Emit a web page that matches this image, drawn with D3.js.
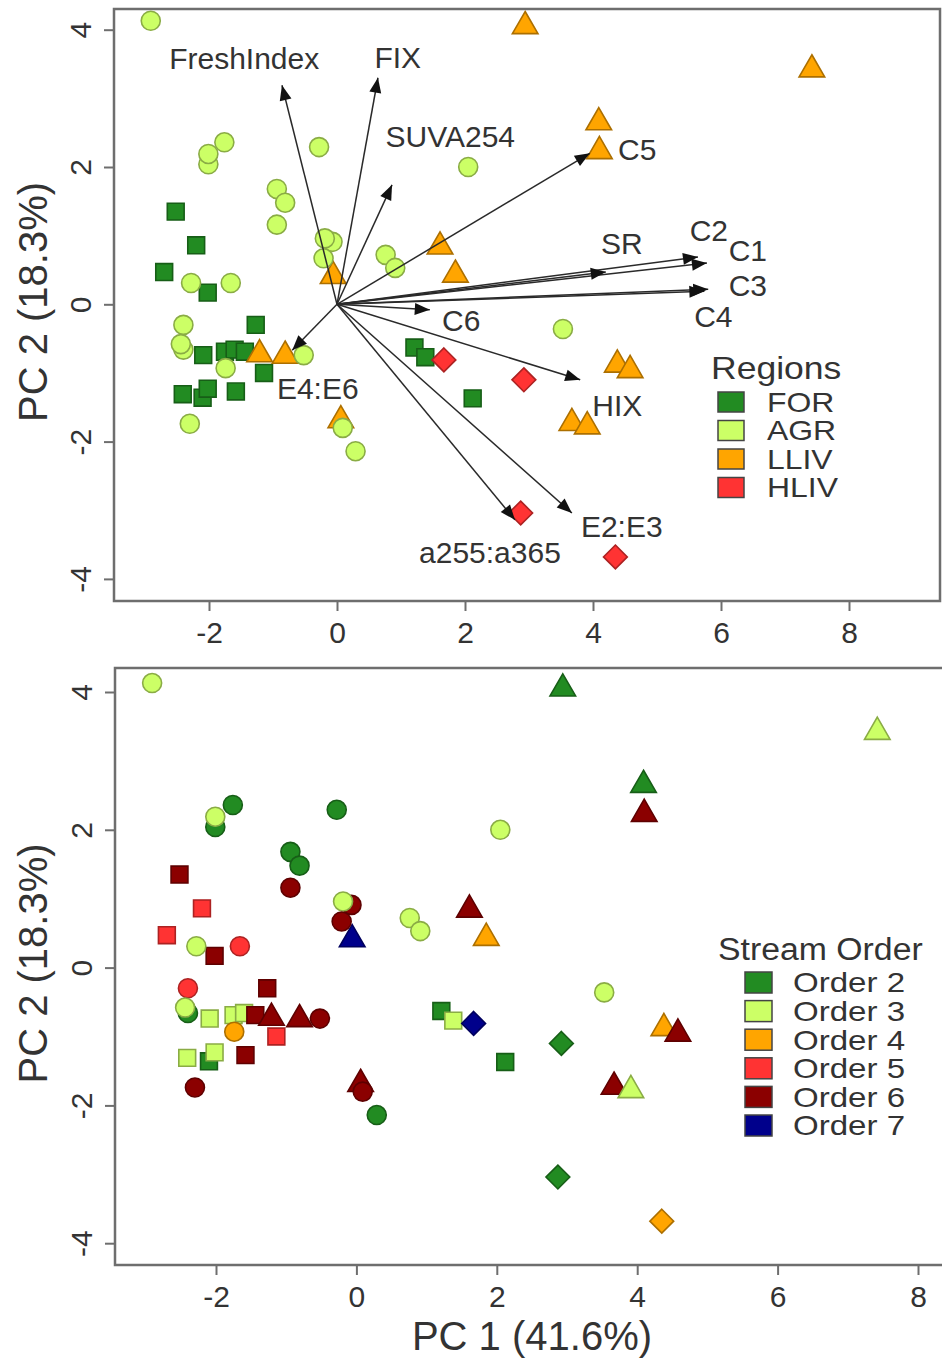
<!DOCTYPE html>
<html>
<head>
<meta charset="utf-8">
<script src="https://cdn.jsdelivr.net/npm/d3@7"></script>
<style>
  body { margin: 0; background: #ffffff; }
  svg { display: block; }
  text { font-family: "Liberation Sans", Arial, sans-serif; fill: #333333; }
</style>
</head>
<body>
<svg id="chart" width="942" height="1358"></svg>
<script>
// ---- PCA site scores (PC1, PC2), grouped by region; drawn in this order ----
const siteRegion = [
  // FOR
  "FOR","FOR","FOR","FOR","FOR","FOR","FOR","FOR","FOR","FOR","FOR","FOR","FOR","FOR","FOR","FOR","FOR",
  // LLIV
  "LLIV","LLIV","LLIV","LLIV","LLIV","LLIV","LLIV","LLIV","LLIV","LLIV","LLIV","LLIV","LLIV","LLIV",
  // HLIV
  "HLIV","HLIV","HLIV","HLIV",
  // AGR
  "AGR","AGR","AGR","AGR","AGR","AGR","AGR","AGR","AGR","AGR","AGR","AGR","AGR","AGR","AGR","AGR","AGR",
  "AGR","AGR","AGR","AGR","AGR","AGR","AGR","AGR"
];
const sitePC1 = [
  -2.52, -2.20, -2.70, -2.02, -1.27, -2.09, -1.75, -1.60, -1.44, -1.14, -2.41, -2.10, -2.02, -1.58, 1.21, 1.38, 2.12,
  2.94, 7.42, 4.09, 4.10, 1.61, 1.85, 4.38, 4.58, 3.67, 3.91, -0.06, 0.06, -1.21, -0.81,
  1.67, 2.92, 2.87, 4.35,
  -2.91, -1.76, -2.01, -2.01, -0.28, -0.94, -0.81, -0.94, -0.07, -0.19, -0.21, -2.28, -1.66, -2.40, -2.40,
  -2.44, -1.74, -2.30, -0.52, 0.09, 0.29, 0.76, 0.91, 2.05, 3.53
];
const sitePC2 = [
  1.35, 0.86, 0.47, 0.17, -0.30, -0.74, -0.69, -0.66, -0.69, -1.00, -1.31, -1.36, -1.23, -1.27, -0.63, -0.77, -1.37,
  4.05, 3.42, 2.65, 2.23, 0.84, 0.43, -0.88, -0.96, -1.73, -1.78, 0.41, -1.69, -0.73, -0.75,
  -0.81, -1.10, -3.04, -3.68,
  4.13, 2.36, 2.04, 2.19, 2.29, 1.68, 1.48, 1.16, 0.91, 0.96, 0.67, 0.31, 0.31, -0.30, -0.66,
  -0.58, -0.93, -1.74, -0.74, -1.80, -2.14, 0.72, 0.53, 2.00, -0.36
];
const siteStreamOrder = [
  6, 5, 5, 6, 6, 3, 3, 3, 6, 5, 3, 2, 3, 6, 2, 3, 2,
  2, 3, 2, 6, 6, 4, 4, 6, 6, 3, 7, 6, 6, 6,
  7, 2, 2, 4,
  3, 2, 2, 3, 2, 2, 2, 6, 6, 3, 6, 3, 5, 5, 2,
  3, 4, 6, 6, 6, 2, 3, 3, 3, 3
];

// ---- Variable loadings (biplot arrows) ----
const loadingNames = ["FreshIndex","FIX","SUVA254","C5","SR","C2","C1","C3","C4","C6","HIX","E2:E3","a255:a365","E4:E6"];
const loadingPC1 = [-0.86, 0.64, 0.86, 3.95, 4.20, 5.64, 5.78, 5.80, 5.74, 1.45, 3.80, 3.67, 2.78, -0.70];
const loadingPC2 = [ 3.19, 3.30, 1.74, 2.20, 0.47, 0.69, 0.60, 0.22, 0.19, -0.08, -1.10, -3.04, -3.14, -0.67];
// where each loading label sits, in PC units
const labelPC1 = [-1.45, 0.95, 1.77, 4.69, 4.45, 5.81, 6.42, 6.42, 5.88, 1.94, 4.38, 4.45, 2.39, -0.30];
const labelPC2 = [ 3.58, 3.60, 2.44, 2.25, 0.89, 1.07, 0.79, 0.28, -0.18, -0.24, -1.48, -3.23, -3.61, -1.22];

// ---- Groups, colours, ticks, axis titles ----
const regionNames = ["FOR", "AGR", "LLIV", "HLIV"];
const regionColors = ["#228B22", "#CCFF66", "#FFA500", "#FF3333"];
const regionShapes = ["square", "circle", "triangle", "diamond"];
const orderValues = [2, 3, 4, 5, 6, 7];
const orderNames = ["Order 2", "Order 3", "Order 4", "Order 5", "Order 6", "Order 7"];
const orderColors = ["#228B22", "#CCFF66", "#FFA500", "#FF3333", "#8B0000", "#00008B"];
const xTicks = [-2, 0, 2, 4, 6, 8];
const yTicks = [-4, -2, 0, 2, 4];
const xTitle = "PC 1 (41.6%)";
const yTitle = "PC 2 (18.3%)";

const sites = sitePC1.map((v, i) => ({
  pc1: v, pc2: sitePC2[i], region: siteRegion[i], order: siteStreamOrder[i]
}));
const loadings = loadingNames.map((n, i) => ({
  name: n, pc1: loadingPC1[i], pc2: loadingPC2[i], lx: labelPC1[i], ly: labelPC2[i]
}));

const regionColor = d3.scaleOrdinal(regionNames, regionColors);
const regionShape = d3.scaleOrdinal(regionNames, regionShapes);
const orderColor = d3.scaleOrdinal(orderValues, orderColors);

const svg = d3.select("#chart");
const frameColor = "#6e6e6e";
const plainNumber = d => String(d); // ASCII hyphen for negatives

// symbol outlines sized like R's filled plotting characters (21-24)
const R = 9.5;
function shapePath(shape) {
  switch (shape) {
    case "circle": {
      return `M${R},0A${R},${R} 0 1,1 ${-R},0A${R},${R} 0 1,1 ${R},0Z`;
    }
    case "square": {
      const h = 0.886 * R;
      return `M${-h},${-h}H${h}V${h}H${-h}Z`;
    }
    case "triangle": {
      const r = 1.555 * R, xc = 1.347 * R, yc = 0.778 * R;
      return `M0,${-r}L${xc},${yc}L${-xc},${yc}Z`;
    }
    case "diamond": {
      const d = 1.2533 * R;
      return `M0,${-d}L${d},0L0,${d}L${-d},0Z`;
    }
  }
}

// legend lettering is drawn slightly wide
function widen(sel, k) {
  sel.each(function () {
    const len = this.getComputedTextLength();
    d3.select(this).attr("textLength", len * k).attr("lengthAdjust", "spacingAndGlyphs");
  });
}

function drawPanel(p) {
  const g = svg.append("g");
  const x = d3.scaleLinear().domain([-2, 8]).range(p.xRange);
  const y = d3.scaleLinear().domain([-4, 4]).range(p.yRange);

  // x axis ticks + labels
  const xa = g.append("g")
    .attr("transform", `translate(0,${p.frame.bottom})`)
    .call(d3.axisBottom(x).tickValues(xTicks).tickSize(10).tickFormat(plainNumber));
  xa.select(".domain").remove();
  xa.selectAll("line").attr("stroke", frameColor).attr("stroke-width", 2);
  xa.selectAll("text")
    .attr("y", 31).attr("dy", "0.35em")
    .attr("font-size", 30).attr("fill", "#333");

  // y axis ticks + rotated labels
  const ya = g.append("g")
    .attr("transform", `translate(${p.frame.left},0)`)
    .call(d3.axisLeft(y).tickValues(yTicks).tickSize(10).tickFormat(plainNumber));
  ya.select(".domain").remove();
  ya.selectAll("line").attr("stroke", frameColor).attr("stroke-width", 2);
  ya.selectAll("text")
    .attr("x", null).attr("dy", "0.35em")
    .attr("transform", "translate(-34,0) rotate(-90)")
    .attr("text-anchor", "middle")
    .attr("font-size", 30).attr("fill", "#333");

  // plot box
  g.append("rect")
    .attr("x", p.frame.left).attr("y", p.frame.top)
    .attr("width", p.frame.right - p.frame.left)
    .attr("height", p.frame.bottom - p.frame.top)
    .attr("fill", "none").attr("stroke", frameColor).attr("stroke-width", 2.5);

  // y axis title
  g.append("text")
    .attr("transform", `translate(33,${(p.frame.top + p.frame.bottom) / 2 - 3}) rotate(-90)`)
    .attr("text-anchor", "middle").attr("dy", "0.35em")
    .attr("font-size", 40).text(yTitle);

  // site scores
  g.append("g").selectAll("path")
    .data(sites)
    .join("path")
    .attr("transform", d => `translate(${x(d.pc1)},${y(d.pc2)})`)
    .attr("d", d => shapePath(regionShape(d.region)))
    .attr("fill", d => p.colorOf(d))
    .attr("stroke", d => d3.color(p.colorOf(d)).darker(1.1))
    .attr("stroke-width", 1.6);

  return { g, x, y };
}

// ---------- Upper panel: biplot coloured by region ----------
const upper = drawPanel({
  xRange: [209, 849],
  yRange: [578.9, 29.7],
  frame: { left: 114, right: 940, top: 9, bottom: 601 },
  colorOf: d => regionColor(d.region)
});

// loading arrows
const ox = upper.x(0), oy = upper.y(0);
const arrows = upper.g.append("g");
arrows.selectAll("line")
  .data(loadings)
  .join("line")
  .attr("x1", ox).attr("y1", oy)
  .attr("x2", d => upper.x(d.pc1)).attr("y2", d => upper.y(d.pc2))
  .attr("stroke", "#2a2a2a").attr("stroke-width", 1.5);
arrows.selectAll("path")
  .data(loadings)
  .join("path")
  .attr("d", d => {
    const tx = upper.x(d.pc1), ty = upper.y(d.pc2);
    const a = Math.atan2(ty - oy, tx - ox);
    const L = 15, W = 6;
    const bx = tx - L * Math.cos(a), by = ty - L * Math.sin(a);
    const px = -Math.sin(a) * W, py = Math.cos(a) * W;
    return `M${tx},${ty}L${bx + px},${by + py}L${bx - px},${by - py}Z`;
  })
  .attr("fill", "#111");
arrows.selectAll("text")
  .data(loadings)
  .join("text")
  .attr("x", d => upper.x(d.lx)).attr("y", d => upper.y(d.ly))
  .attr("dy", "0.35em").attr("text-anchor", "middle")
  .attr("font-size", 30)
  .text(d => d.name);

// region legend
const regLeg = upper.g.append("g");
regLeg.append("text")
  .attr("x", 711).attr("y", 368).attr("dy", "0.35em")
  .attr("font-size", 32).text("Regions")
  .call(widen, 1.11);
const regRows = regLeg.selectAll("g.row")
  .data(regionNames)
  .join("g").attr("class", "row")
  .attr("transform", (d, i) => `translate(0,${402 + i * 28.5})`);
regRows.append("rect")
  .attr("x", 718).attr("y", -10).attr("width", 26).attr("height", 20)
  .attr("fill", d => regionColor(d)).attr("stroke", "#444").attr("stroke-width", 1.5);
regRows.append("text")
  .attr("x", 767).attr("dy", "0.35em")
  .attr("font-size", 28).text(d => d)
  .call(widen, 1.14);

// ---------- Lower panel: same scores coloured by stream order ----------
const lower = drawPanel({
  xRange: [216, 918],
  yRange: [1243.2, 692],
  frame: { left: 115, right: 946, top: 668, bottom: 1265 },
  colorOf: d => orderColor(d.order)
});

lower.g.append("text")
  .attr("x", 532).attr("y", 1336).attr("dy", "0.35em")
  .attr("text-anchor", "middle").attr("font-size", 40)
  .text(xTitle);

const ordLeg = lower.g.append("g");
ordLeg.append("text")
  .attr("x", 718).attr("y", 949).attr("dy", "0.35em")
  .attr("font-size", 31).text("Stream Order")
  .call(widen, 1.09);
const ordRows = ordLeg.selectAll("g.row")
  .data(orderValues)
  .join("g").attr("class", "row")
  .attr("transform", (d, i) => `translate(0,${982.5 + i * 28.6})`);
ordRows.append("rect")
  .attr("x", 745).attr("y", -10.5).attr("width", 27).attr("height", 21)
  .attr("fill", d => orderColor(d)).attr("stroke", "#444").attr("stroke-width", 1.5);
ordRows.append("text")
  .attr("x", 793).attr("dy", "0.35em")
  .attr("font-size", 28).text((d, i) => orderNames[i])
  .call(widen, 1.18);
</script>
</body>
</html>
